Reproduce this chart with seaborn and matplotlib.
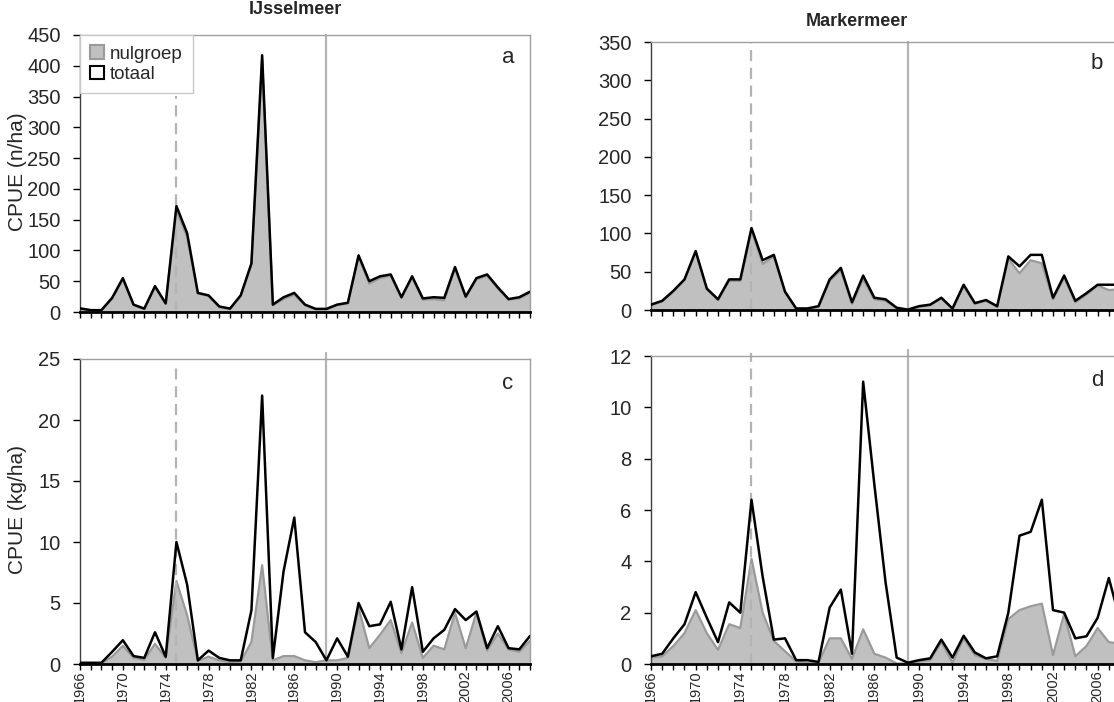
import matplotlib
matplotlib.use('Agg')
import numpy as np
import pandas as pd
import seaborn as sns
import matplotlib.pyplot as plt
from matplotlib.patches import Patch

###### Data ######################################

jaren = list(range(1966, 2009))

# IJsselmeer, aantal per ha
ij_n_totaal = [6, 3, 3, 23, 55, 12, 5.5, 42, 14, 172, 128, 31, 27, 9, 5.5, 27, 79, 417, 12, 24, 31, 12, 5, 5,
               12, 15, 92, 50, 58, 61, 24, 58, 22, 24, 23, 73, 25, 55, 61, 40, 21, 24, 33]
ij_n_nulgroep = [5, 3, 3, 22, 53, 11, 5, 40, 13, 165, 122, 30, 26, 8, 5, 26, 77, 410, 11, 21, 28, 11, 5, 5,
                 11, 14, 90, 46, 55, 59, 23, 56, 20, 21, 19, 71, 24, 53, 59, 38, 20, 22, 31]

# Markermeer, aantal per ha
mm_n_totaal = [7, 12, 25, 40, 77, 28, 14, 40, 40, 107, 65, 72, 24, 2, 2, 5, 40, 55, 10, 45, 16, 14, 3, 0.5,
               5, 7, 16, 2, 33, 9, 13, 5, 70, 57, 72, 72, 16, 45, 12, 22, 33, 33, 33]
mm_n_nulgroep = [6, 11, 24, 39, 76, 27, 13, 38, 38, 104, 60, 70, 23, 1.5, 1.5, 4, 38, 52, 8, 40, 14, 12, 2, 0.3,
                 4, 6, 15, 1, 31, 8, 12, 4, 67, 48, 65, 61, 14, 42, 10, 20, 32, 26, 27]

# IJsselmeer, kg per ha
ij_kg_totaal = [0.1, 0.1, 0.1, 1.0, 1.95, 0.65, 0.5, 2.6, 0.6, 10.0, 6.5, 0.3, 1.1, 0.5, 0.3, 0.3, 4.4, 22.0,
                0.5, 7.6, 12.0, 2.6, 1.8, 0.3,
                2.1, 0.6, 5.0, 3.1, 3.25, 5.1, 1.2, 6.3, 1.0, 2.1, 2.8, 4.5, 3.6, 4.3, 1.3, 3.1, 1.3, 1.2, 2.3]
ij_kg_nulgroep = [0.05, 0.05, 0.05, 0.6, 1.5, 0.5, 0.35, 1.65, 0.5, 6.8, 4.0, 0.25, 0.6, 0.3, 0.15, 0.2, 1.8, 8.1,
                  0.3, 0.65, 0.65, 0.3, 0.15, 0.3,
                  0.3, 0.5, 4.6, 1.3, 2.4, 3.6, 0.9, 3.4, 0.5, 1.5, 1.2, 4.2, 1.3, 4.2, 1.1, 2.5, 1.2, 1.0, 1.9]

# Markermeer, kg per ha
mm_kg_totaal = [0.3, 0.4, 1.0, 1.55, 2.8, 1.8, 0.85, 2.4, 2.0, 6.4, 3.4, 0.95, 1.0, 0.15, 0.15, 0.08, 2.2, 2.9,
                0.4, 11.0, 7.0, 3.2, 0.25, 0.05,
                0.15, 0.22, 0.95, 0.25, 1.1, 0.45, 0.22, 0.3, 2.0, 5.0, 5.15, 6.4, 2.1, 2.0, 1.0, 1.08, 1.8, 3.35, 1.7]
mm_kg_nulgroep = [0.25, 0.3, 0.7, 1.2, 2.1, 1.2, 0.55, 1.55, 1.4, 4.1, 2.0, 0.9, 0.5, 0.1, 0.05, 0.05, 1.0, 1.0,
                  0.2, 1.35, 0.4, 0.25, 0.02, 0.02,
                  0.1, 0.15, 0.85, 0.05, 1.0, 0.35, 0.2, 0.12, 1.75, 2.1, 2.25, 2.35, 0.35, 1.95, 0.3, 0.7, 1.4, 0.85, 0.8]

jaar_streep = 1975   # gestreepte lijn
jaar_breuk = 1989    # doorgetrokken grijze lijn

###### Figuur ####################################

sns.set_style('ticks')
plt.rcParams['font.family'] = ['Liberation Sans', 'DejaVu Sans']

W, H = 1114, 702
fig = plt.figure(figsize=(W / 100, H / 100), dpi=100)

def box(x0, x1, y0, y1):
    return [x0 / W, 1 - y1 / H, (x1 - x0) / W, (y1 - y0) / H]

panels = [
    # positie, totaal, nulgroep, ymax, stap, letter, streep-ymax, onderste rij
    (box(80, 530, 35, 312), ij_n_totaal, ij_n_nulgroep, 450, 50, 'a', 0.78, False),
    (box(651, 1120, 42, 310), mm_n_totaal, mm_n_nulgroep, 350, 50, 'b', 1.0, False),
    (box(80, 530, 359, 664), ij_kg_totaal, ij_kg_nulgroep, 25, 5, 'c', 0.975, True),
    (box(651, 1120, 356, 664), mm_kg_totaal, mm_kg_nulgroep, 12, 2, 'd', 1.01, True),
]

grijs = '#c0c0c0'
grijs_rand = '#9a9a9a'
lijn_grijs = '#b4b4b4'

axes = []
for pos, tot, nul, ymax, stap, letter, streep_top, onder in panels:
    ax = fig.add_axes(pos)
    df = pd.DataFrame({'jaar': jaren, 'totaal': tot, 'nulgroep': nul})

    ax.fill_between(df['jaar'], 0, df['nulgroep'], color=grijs, lw=0, zorder=1)
    sns.lineplot(data=df, x='jaar', y='nulgroep', ax=ax, color=grijs_rand, lw=1.6, zorder=2)
    ax.axvline(jaar_streep, ymin=0, ymax=streep_top, color=lijn_grijs, ls=(0, (5, 3)), lw=1.6,
               zorder=2.5, clip_on=False)
    ax.axvline(jaar_breuk, ymin=0, ymax=1.02 if onder else 1.0, color=lijn_grijs, lw=1.6,
               zorder=2.5, clip_on=False)
    sns.lineplot(data=df, x='jaar', y='totaal', ax=ax, color='black', lw=1.8, zorder=3)

    ax.set_xlim(1966, 2008)
    ax.set_ylim(0, ymax)
    ax.set_yticks(np.arange(0, ymax + stap / 2, stap))
    ax.set_xticks(jaren)
    if onder:
        ax.set_xticklabels([str(j) if (j - 1966) % 4 == 0 else '' for j in jaren], rotation=90)
    else:
        ax.set_xticklabels([])
    ax.set_xlabel('')
    ax.set_ylabel('')
    ax.tick_params(axis='both', direction='out', width=1, color='black')
    ax.tick_params(axis='y', length=5, labelsize=14.5, pad=9)
    ax.tick_params(axis='x', length=4.5, labelsize=10.5, pad=0)

    for s in ['top', 'right']:
        ax.spines[s].set_visible(True)
        ax.spines[s].set_color('#a0a0a0')
        ax.spines[s].set_linewidth(1.0)
    ax.spines['left'].set_color('#404040')
    ax.spines['left'].set_linewidth(1.0)
    ax.spines['bottom'].set_color('black')
    ax.spines['bottom'].set_linewidth(2.0)
    ax.spines['bottom'].set_zorder(4)

    ax.text(0.951, 0.92, letter, transform=ax.transAxes, fontsize=16, ha='center', va='center')
    axes.append(ax)

# Legenda in paneel a
handles = [Patch(facecolor=grijs, edgecolor=grijs_rand, lw=1.5, label='nulgroep'),
           Patch(facecolor='white', edgecolor='black', lw=1.5, label='totaal')]
leg = axes[0].legend(handles=handles, loc='upper left', bbox_to_anchor=(0, 1), borderaxespad=0,
                     fontsize=13.5, handlelength=0.75, handleheight=0.75, handletextpad=0.3,
                     labelspacing=0.15, borderpad=0.55, fancybox=False, framealpha=1)
leg.get_frame().set_edgecolor('#c8c8c8')
leg.get_frame().set_linewidth(1.0)

# Titels en aslabels
fig.text(295 / W, 1 - 10 / H, 'IJsselmeer', fontsize=13, fontweight='bold', ha='center', va='center')
fig.text(857 / W, 1 - 22 / H, 'Markermeer', fontsize=13, fontweight='bold', ha='center', va='center')
fig.text(18 / W, 1 - 172 / H, 'CPUE (n/ha)', fontsize=15, rotation=90, ha='center', va='center')
fig.text(18 / W, 1 - 510 / H, 'CPUE (kg/ha)', fontsize=15, rotation=90, ha='center', va='center')

fig.savefig('out.png', dpi=100)
